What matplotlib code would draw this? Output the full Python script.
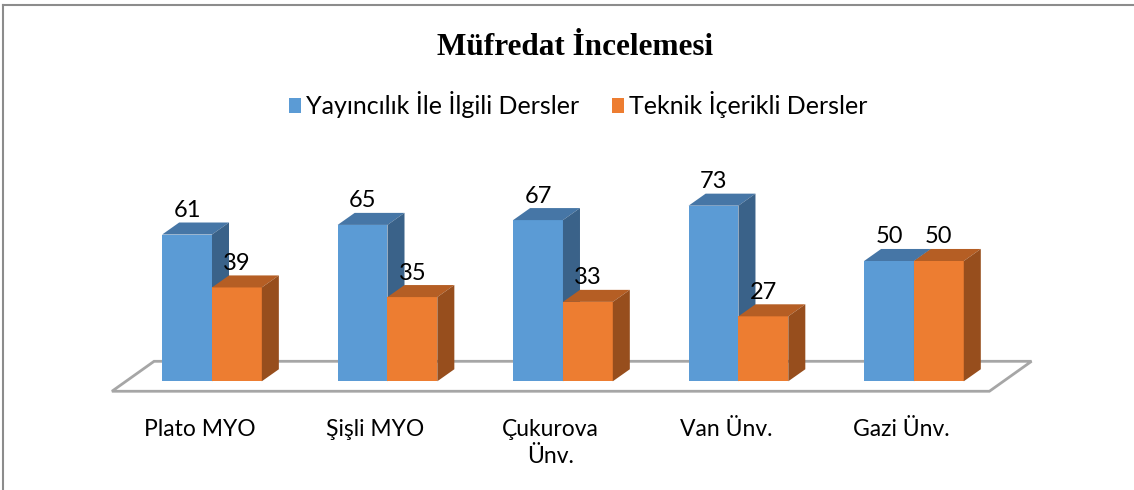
"""
Müfredat İncelemesi - pseudo-3D clustered column chart
"""

import matplotlib.pyplot as plt
from matplotlib.patches import Polygon, Patch
from matplotlib.lines import Line2D

categories = ["Plato MYO", "Şişli MYO", "Çukurova\nÜnv.", "Van Ünv.", "Gazi Ünv."]
series_names = ["Yayıncılık İle İlgili Dersler", "Teknik İçerikli Dersler"]
yayincilik = [61, 65, 67, 73, 50]
teknik = [39, 35, 33, 27, 50]

front_colors = ["#5B9BD5", "#ED7D31"]
top_colors = ["#4676A6", "#B55E24"]
side_colors = ["#3A6289", "#974E1D"]

plt.rcParams["font.family"] = ["Lato", "DejaVu Sans"]

fig = plt.figure(figsize=(11.34, 4.9), dpi=100)
ax = fig.add_axes([0, 0, 1, 1])
ax.set_xlim(-1.208, 5.254)
ax.set_ylim(-45.2, 158.5)
ax.axis("off")

bar_w = 0.284     # width of one bar in group units
ddx = 0.097       # 3D depth offset (x)
ddy = 5.0         # 3D depth offset (y, value units)
line_step = 11.2  # one text line in value units

# floor
floor = Polygon([(-0.57, -4.15), (4.43, -4.15), (4.67, 8.3), (-0.33, 8.3)],
                closed=True, facecolor="white", edgecolor="#A6A6A6", lw=2, zorder=1)
ax.add_patch(floor)

z = 2
for i in range(len(categories)):
    for s, vals in enumerate([yayincilik, teknik]):
        v = vals[i]
        x0 = i - bar_w + s * bar_w
        x1 = x0 + bar_w
        ax.bar(x0, v, width=bar_w, align="edge", color=front_colors[s],
               linewidth=0, zorder=z)
        ax.add_patch(Polygon([(x0, v), (x1, v), (x1 + ddx, v + ddy), (x0 + ddx, v + ddy)],
                             closed=True, facecolor=top_colors[s], lw=0, zorder=z))
        ax.add_patch(Polygon([(x1, 0), (x1, v), (x1 + ddx, v + ddy), (x1 + ddx, ddy)],
                             closed=True, facecolor=side_colors[s], lw=0, zorder=z))
        ax.text((x0 + x1) / 2, v + ddy + 2.3, str(v), ha="center", va="baseline",
                fontsize=17, color="black", zorder=20)
        z += 1
    # category label, one text per line so every first line shares a baseline
    for j, line in enumerate(categories[i].split("\n")):
        ax.text(i - 0.07, -22.8 - line_step * j, line,
                ha="center", va="baseline", fontsize=16.5)

fig.text(575 / 1134, 1 - 55 / 490, "Müfredat İncelemesi", ha="center", va="baseline",
         fontsize=22.5, fontweight="bold", family=["Liberation Serif", "DejaVu Serif"])

handles = [Patch(facecolor=c, edgecolor="none") for c in front_colors]
fig.legend(handles, series_names, loc="center", bbox_to_anchor=(578 / 1134, 1 - 105 / 490),
           ncol=2, frameon=False, fontsize=18, handlelength=0.5, handleheight=0.5,
           handletextpad=0.2, columnspacing=1.3, borderpad=0, borderaxespad=0)

# outer frame (only top and left visible in the crop)
fig.add_artist(Line2D([3 / 1134, 1], [1 - 5 / 490, 1 - 5 / 490], color="#8C8C8C", lw=1.5))
fig.add_artist(Line2D([3 / 1134, 3 / 1134], [0, 1 - 5 / 490], color="#8C8C8C", lw=1.5))

fig.savefig("out.png", dpi=100)
